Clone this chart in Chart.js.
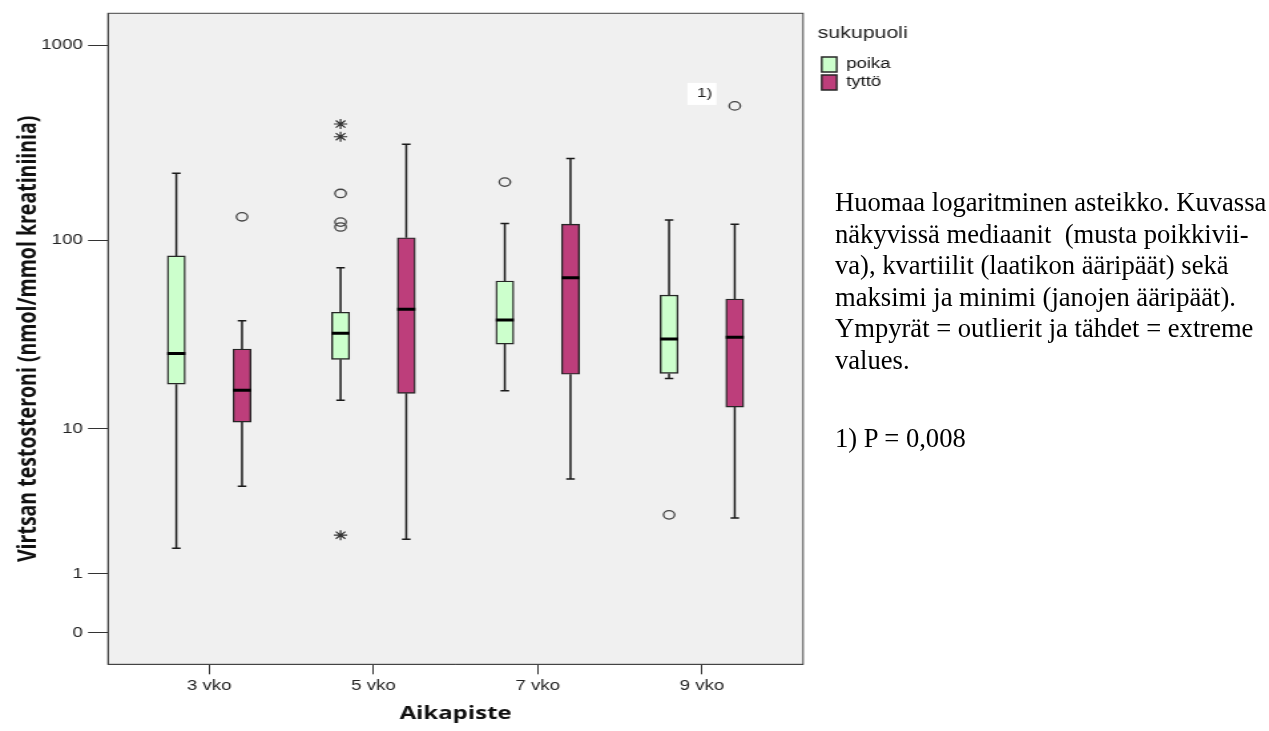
<!DOCTYPE html>
<html>
<head>
<meta charset="utf-8">
<script src="https://cdn.jsdelivr.net/npm/chart.js@4.4.1/dist/chart.umd.min.js"></script>
<style>
  html, body { margin: 0; padding: 0; background: #fff; }
  body { width: 1269px; height: 731px; position: relative; overflow: hidden; }
  /* SPSS-kuva on venytetty vaakasuunnassa, joten venytetään koko kaavio */
  #wrap { position: absolute; left: 0; top: 0; width: 700px; height: 731px; transform: scaleX(1.33); transform-origin: 0 0; }
  #boxChart { display: block; }
  .note { position: absolute; left: 835px; font-family: "Liberation Serif", "Times New Roman", serif; font-size: 26.6px; line-height: 31.5px; color: #000; white-space: pre; }
</style>
</head>
<body>
<div id="wrap"><canvas id="boxChart" width="700" height="731"></canvas></div>
<div class="note" style="top:187px">Huomaa logaritminen asteikko. Kuvassa
näkyvissä mediaanit  (musta poikkivii-
va), kvartiilit (laatikon ääripäät) sekä
maksimi ja minimi (janojen ääripäät).
Ympyrät = outlierit ja tähdet = extreme
values.</div>
<div class="note" style="top:423px">1) P = 0,008</div>
<script>
const categories = ['3 vko', '5 vko', '7 vko', '9 vko'];
const yTickValues = [0, 1, 10, 100, 1000];

const poikaMin = [1.7, 14.4, 16.2, 18.9];
const poikaQ1 = [17.6, 23.9, 28.8, 20.1];
const poikaMedian = [25.7, 32.8, 38.5, 30.6];
const poikaQ3 = [83, 42.3, 61.5, 52];
const poikaMax = [221, 72, 122, 127];
const poikaOutliers = [[], [174, 124, 117], [199], [3.0]];
const poikaExtremes = [[], [395, 340, 2.15], [], []];

const tyttoMin = [4.6, 2.0, 5.1, 2.85];
const tyttoQ1 = [10.9, 15.7, 19.9, 13.2];
const tyttoMedian = [16.3, 43.8, 64, 31.3];
const tyttoQ3 = [27.1, 103, 121, 49.6];
const tyttoMax = [38.2, 311, 263, 121];
const tyttoOutliers = [[132], [], [], [489]];
const tyttoExtremes = [[], [], [], []];

const noteIndex = 3; // "1)" merkintä 9 vko:n tyttöjen outlierin kohdalla

// SPSS:n log-asteikko: log10(x + 1), jotta 0 mahtuu mukaan
const tr = v => Math.log10(v + 1);

const groups = [
  { label: 'poika', fill: '#ccffcc', shift: -0.2, min: poikaMin, q1: poikaQ1, med: poikaMedian, q3: poikaQ3, max: poikaMax, out: poikaOutliers, ext: poikaExtremes },
  { label: 'tyttö', fill: '#bd3e7b', shift: 0.2, min: tyttoMin, q1: tyttoQ1, med: tyttoMedian, q3: tyttoQ3, max: tyttoMax, out: tyttoOutliers, ext: tyttoExtremes }
];
const boxHalf = 0.055;
const capHalf = 0.026;

function boxData(g) {
  return categories.map((c, i) => ({ x: i + g.shift, y: [tr(g.q1[i]), tr(g.q3[i])] }));
}
function whiskerData(g) {
  const pts = [];
  categories.forEach((c, i) => {
    const x = i + g.shift;
    pts.push({ x: x, y: tr(g.q3[i]) }, { x: x, y: tr(g.max[i]) }, { x: x, y: null });
    pts.push({ x: x, y: tr(g.q1[i]) }, { x: x, y: tr(g.min[i]) }, { x: x, y: null });
    pts.push({ x: x - capHalf, y: tr(g.max[i]) }, { x: x + capHalf, y: tr(g.max[i]) }, { x: x, y: null });
    pts.push({ x: x - capHalf, y: tr(g.min[i]) }, { x: x + capHalf, y: tr(g.min[i]) }, { x: x, y: null });
  });
  return pts;
}
function medianData(g) {
  const pts = [];
  categories.forEach((c, i) => {
    const x = i + g.shift;
    pts.push({ x: x - boxHalf, y: tr(g.med[i]) }, { x: x + boxHalf, y: tr(g.med[i]) }, { x: x, y: null });
  });
  return pts;
}
function pointData(g, key) {
  const pts = [];
  g[key].forEach((vals, i) => vals.forEach(v => pts.push({ x: i + g.shift, y: tr(v) })));
  return pts;
}

const datasets = [];
groups.forEach(g => {
  datasets.push({
    type: 'bar', label: g.label, data: boxData(g), backgroundColor: g.fill,
    borderColor: '#262626', borderWidth: 1.4, borderSkipped: false, barThickness: 13.5, grouped: false, order: 2
  });
});
groups.forEach(g => {
  datasets.push({ type: 'line', label: g.label + ' whisker', data: whiskerData(g), borderColor: '#1a1a1a', borderWidth: 1.5, pointRadius: 0, fill: false, spanGaps: false, tension: 0, order: 3 });
  datasets.push({ type: 'line', label: g.label + ' median', data: medianData(g), borderColor: '#000', borderWidth: 3, pointRadius: 0, fill: false, spanGaps: false, tension: 0, borderCapStyle: 'butt', order: 0 });
  datasets.push({ type: 'scatter', label: g.label + ' outlier', data: pointData(g, 'out'), pointStyle: 'circle', pointRadius: 4.2, pointBorderWidth: 1.3, pointBorderColor: '#444', pointBackgroundColor: 'rgba(0,0,0,0)', order: 1 });
  datasets.push({ type: 'scatter', label: g.label + ' extreme', data: pointData(g, 'ext'), pointStyle: 'star', pointRadius: 5, pointBorderWidth: 1.2, pointBorderColor: '#333', pointBackgroundColor: 'rgba(0,0,0,0)', order: 1 });
});

const framePlugin = {
  id: 'frame',
  beforeDraw(chart) {
    const { ctx, chartArea: a } = chart;
    ctx.save();
    ctx.fillStyle = '#f0f0f0';
    ctx.fillRect(a.left, a.top, a.right - a.left, a.bottom - a.top);
    ctx.restore();
  },
  afterDraw(chart) {
    const { ctx, chartArea: a } = chart;
    ctx.save();
    ctx.strokeStyle = '#444';
    ctx.lineWidth = 1;
    ctx.strokeRect(a.left, a.top, a.right - a.left, a.bottom - a.top);
    ctx.restore();
  }
};

const legendShift = {
  id: 'legendShift',
  afterLayout(chart) {
    chart.legend.left += 11;
    chart.legend.right += 31;
    chart.legend.width += 20;
  }
};

const notePlugin = {
  id: 'note',
  afterDatasetsDraw(chart) {
    const { ctx } = chart;
    const x = chart.scales.x.getPixelForValue(noteIndex);
    const y = chart.scales.y.getPixelForValue(tr(tyttoOutliers[noteIndex][0])) - 12;
    ctx.save();
    ctx.fillStyle = '#fff';
    ctx.fillRect(x - 11, y - 11, 22, 22);
    ctx.fillStyle = '#222';
    ctx.font = '13px "Liberation Sans", Arial, sans-serif';
    ctx.textAlign = 'center';
    ctx.textBaseline = 'middle';
    ctx.fillText('1)', x + 2, y);
    ctx.restore();
  }
};

const tickFont = { family: '"Liberation Sans", Arial, sans-serif', size: 14 };

new Chart(document.getElementById('boxChart'), {
  type: 'bar',
  data: { datasets: datasets },
  options: {
    responsive: false,
    animation: false,
    layout: { padding: { top: 13.3, left: 0, bottom: 0, right: 31.4 } },
    plugins: {
      tooltip: { enabled: false },
      legend: {
        position: 'right',
        align: 'start',
        title: { display: true, text: 'sukupuoli', position: 'start', color: '#222', font: { family: '"Liberation Sans", Arial, sans-serif', size: 16 }, padding: { top: 12, bottom: 9.5 } },
        labels: {
          filter: item => item.datasetIndex < 2,
          boxWidth: 11.3, boxHeight: 15, padding: 3, color: '#111', font: tickFont
        }
      }
    },
    scales: {
      x: {
        type: 'linear', min: -0.616, max: 3.616, offset: false,
        afterBuildTicks: s => { s.ticks = categories.map((c, i) => ({ value: i })); },
        afterFit: s => { s.height = 66.7; },
        ticks: { callback: v => categories[v], color: '#222', font: tickFont, padding: 3, maxRotation: 0, autoSkip: false },
        grid: { offset: false, drawOnChartArea: false, tickLength: 10, color: '#333' },
        border: { display: true, color: '#444' },
        title: { display: true, text: 'Aikapiste', color: '#111', font: { family: '"Open Sans", sans-serif', size: 18, weight: 'bold' }, padding: { top: 0, bottom: 6.2 } }
      },
      y: {
        type: 'linear', min: -0.161, max: 3.163,
        afterBuildTicks: s => { s.ticks = yTickValues.map(v => ({ value: tr(v) })); },
        afterFit: s => { s.width = 81.2; },
        ticks: { callback: (v, i) => yTickValues[i], color: '#222', font: tickFont, padding: 4, autoSkip: false },
        grid: { drawOnChartArea: false, tickLength: 15, color: '#333' },
        border: { display: true, color: '#444' },
        title: { display: true, text: 'Virtsan testosteroni (nmol/mmol kreatiniinia)', color: '#111', font: { family: '"Open Sans", sans-serif', size: 19.5, weight: 'bold' }, padding: { top: 9.6, bottom: 0 } }
      }
    }
  },
  plugins: [framePlugin, legendShift, notePlugin]
});
</script>
</body>
</html>
